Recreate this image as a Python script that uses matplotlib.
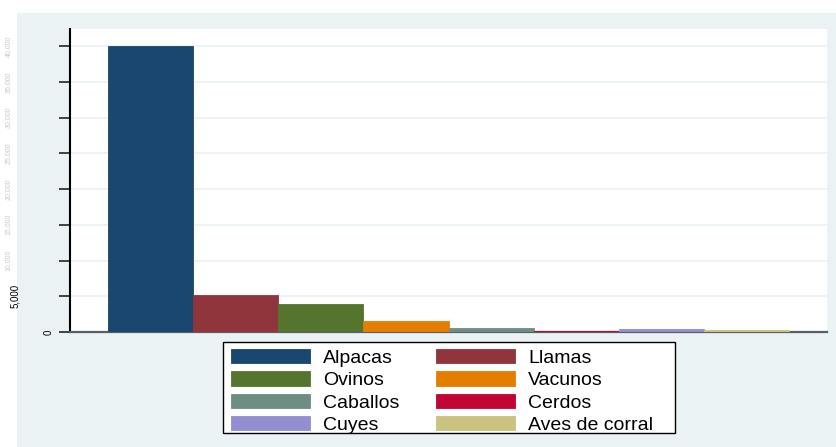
import matplotlib.pyplot as plt
import matplotlib.patches as mpatches
from matplotlib import transforms

plt.rcParams['font.family'] = ['Liberation Sans', 'DejaVu Sans']

# population of animals
especies = ['Alpacas', 'Llamas', 'Ovinos', 'Vacunos',
            'Caballos', 'Cerdos', 'Cuyes', 'Aves de corral']
valores = [39950, 5150, 3950, 1550, 580, 150, 470, 330]
colores = ['#1A476F', '#90353B', '#55752F', '#E37E00',
           '#6E8E84', '#C10534', '#938DD2', '#CAC27E']
yticks = [0, 5000, 10000, 15000, 20000, 25000, 30000, 35000, 40000]

W, H = 836, 447
fig = plt.figure(figsize=(W / 100, H / 100), dpi=100)
fig.patch.set_facecolor('white')

# light graph region like stata s2color
bg = fig.add_axes([17 / W, 0, 1 - 17 / W, (H - 13) / H], zorder=-5)
bg.set_facecolor('#EAF2F3')
bg.set_xticks([])
bg.set_yticks([])
for s in bg.spines.values():
    s.set_visible(False)

ax = fig.add_axes([70 / W, (H - 332) / H, (827 - 70) / W, (332 - 29) / H], zorder=1)
ax.set_facecolor('white')

handles = []
for i, (nom, v, c) in enumerate(zip(especies, valores, colores)):
    b = ax.bar(i, v, width=1.0, color=c, edgecolor=c, linewidth=0.6, label=nom, zorder=3)
    handles.append(b)

ax.set_xlim(-0.5 - 38 / 85, len(especies) - 0.5 + 38 / 85)
ax.set_ylim(0, 42380)
ax.set_xticks([])
ax.set_yticks(yticks)
ax.set_yticklabels([])
ax.yaxis.grid(True, color='#EAF2F3', linewidth=1.2, zorder=0)
ax.tick_params(axis='y', length=8, width=1.3, color='#333333')

for s in ['top', 'right']:
    ax.spines[s].set_visible(False)
ax.spines['left'].set_linewidth(1.5)
ax.spines['left'].set_color('black')
ax.spines['bottom'].set_linewidth(1.6)
ax.spines['bottom'].set_color('#5A5F66')

# tick labels, stata put them in odd places here
tr = transforms.blended_transform_factory(fig.transFigure, ax.transData)
ax.text(49 / W, 0, '0', transform=tr, rotation=90, ha='center', va='center', fontsize=7)
ax.text(15 / W, 5000, '5,000', transform=tr, rotation=90, ha='center', va='center', fontsize=7)
for t in yticks[2:]:
    ax.text(8 / W, t, '{:,}'.format(t), transform=tr, rotation=90, ha='center',
            va='center', fontsize=5, color='#C8C8C8')

# legend box drawn by hand, entries fill row by row
caja = mpatches.Rectangle((223 / W, (H - 433) / H), (675 - 223) / W, (433 - 342) / H,
                          transform=fig.transFigure, facecolor='white',
                          edgecolor='black', linewidth=1.0, zorder=5)
fig.add_artist(caja)

orden = [0, 2, 4, 6, 1, 3, 5, 7]
leg = fig.legend([handles[k] for k in orden], [especies[k] for k in orden],
                 loc='upper left', ncol=2, bbox_to_anchor=(231 / W, (H - 349) / H),
                 frameon=False, fontsize=14,
                 handlelength=4.06, handleheight=0.77, handletextpad=0.67,
                 labelspacing=0.22, columnspacing=1.9, borderpad=0, borderaxespad=0)
leg.set_zorder(10)

fig.savefig('out.png', dpi=100, facecolor=fig.get_facecolor())
